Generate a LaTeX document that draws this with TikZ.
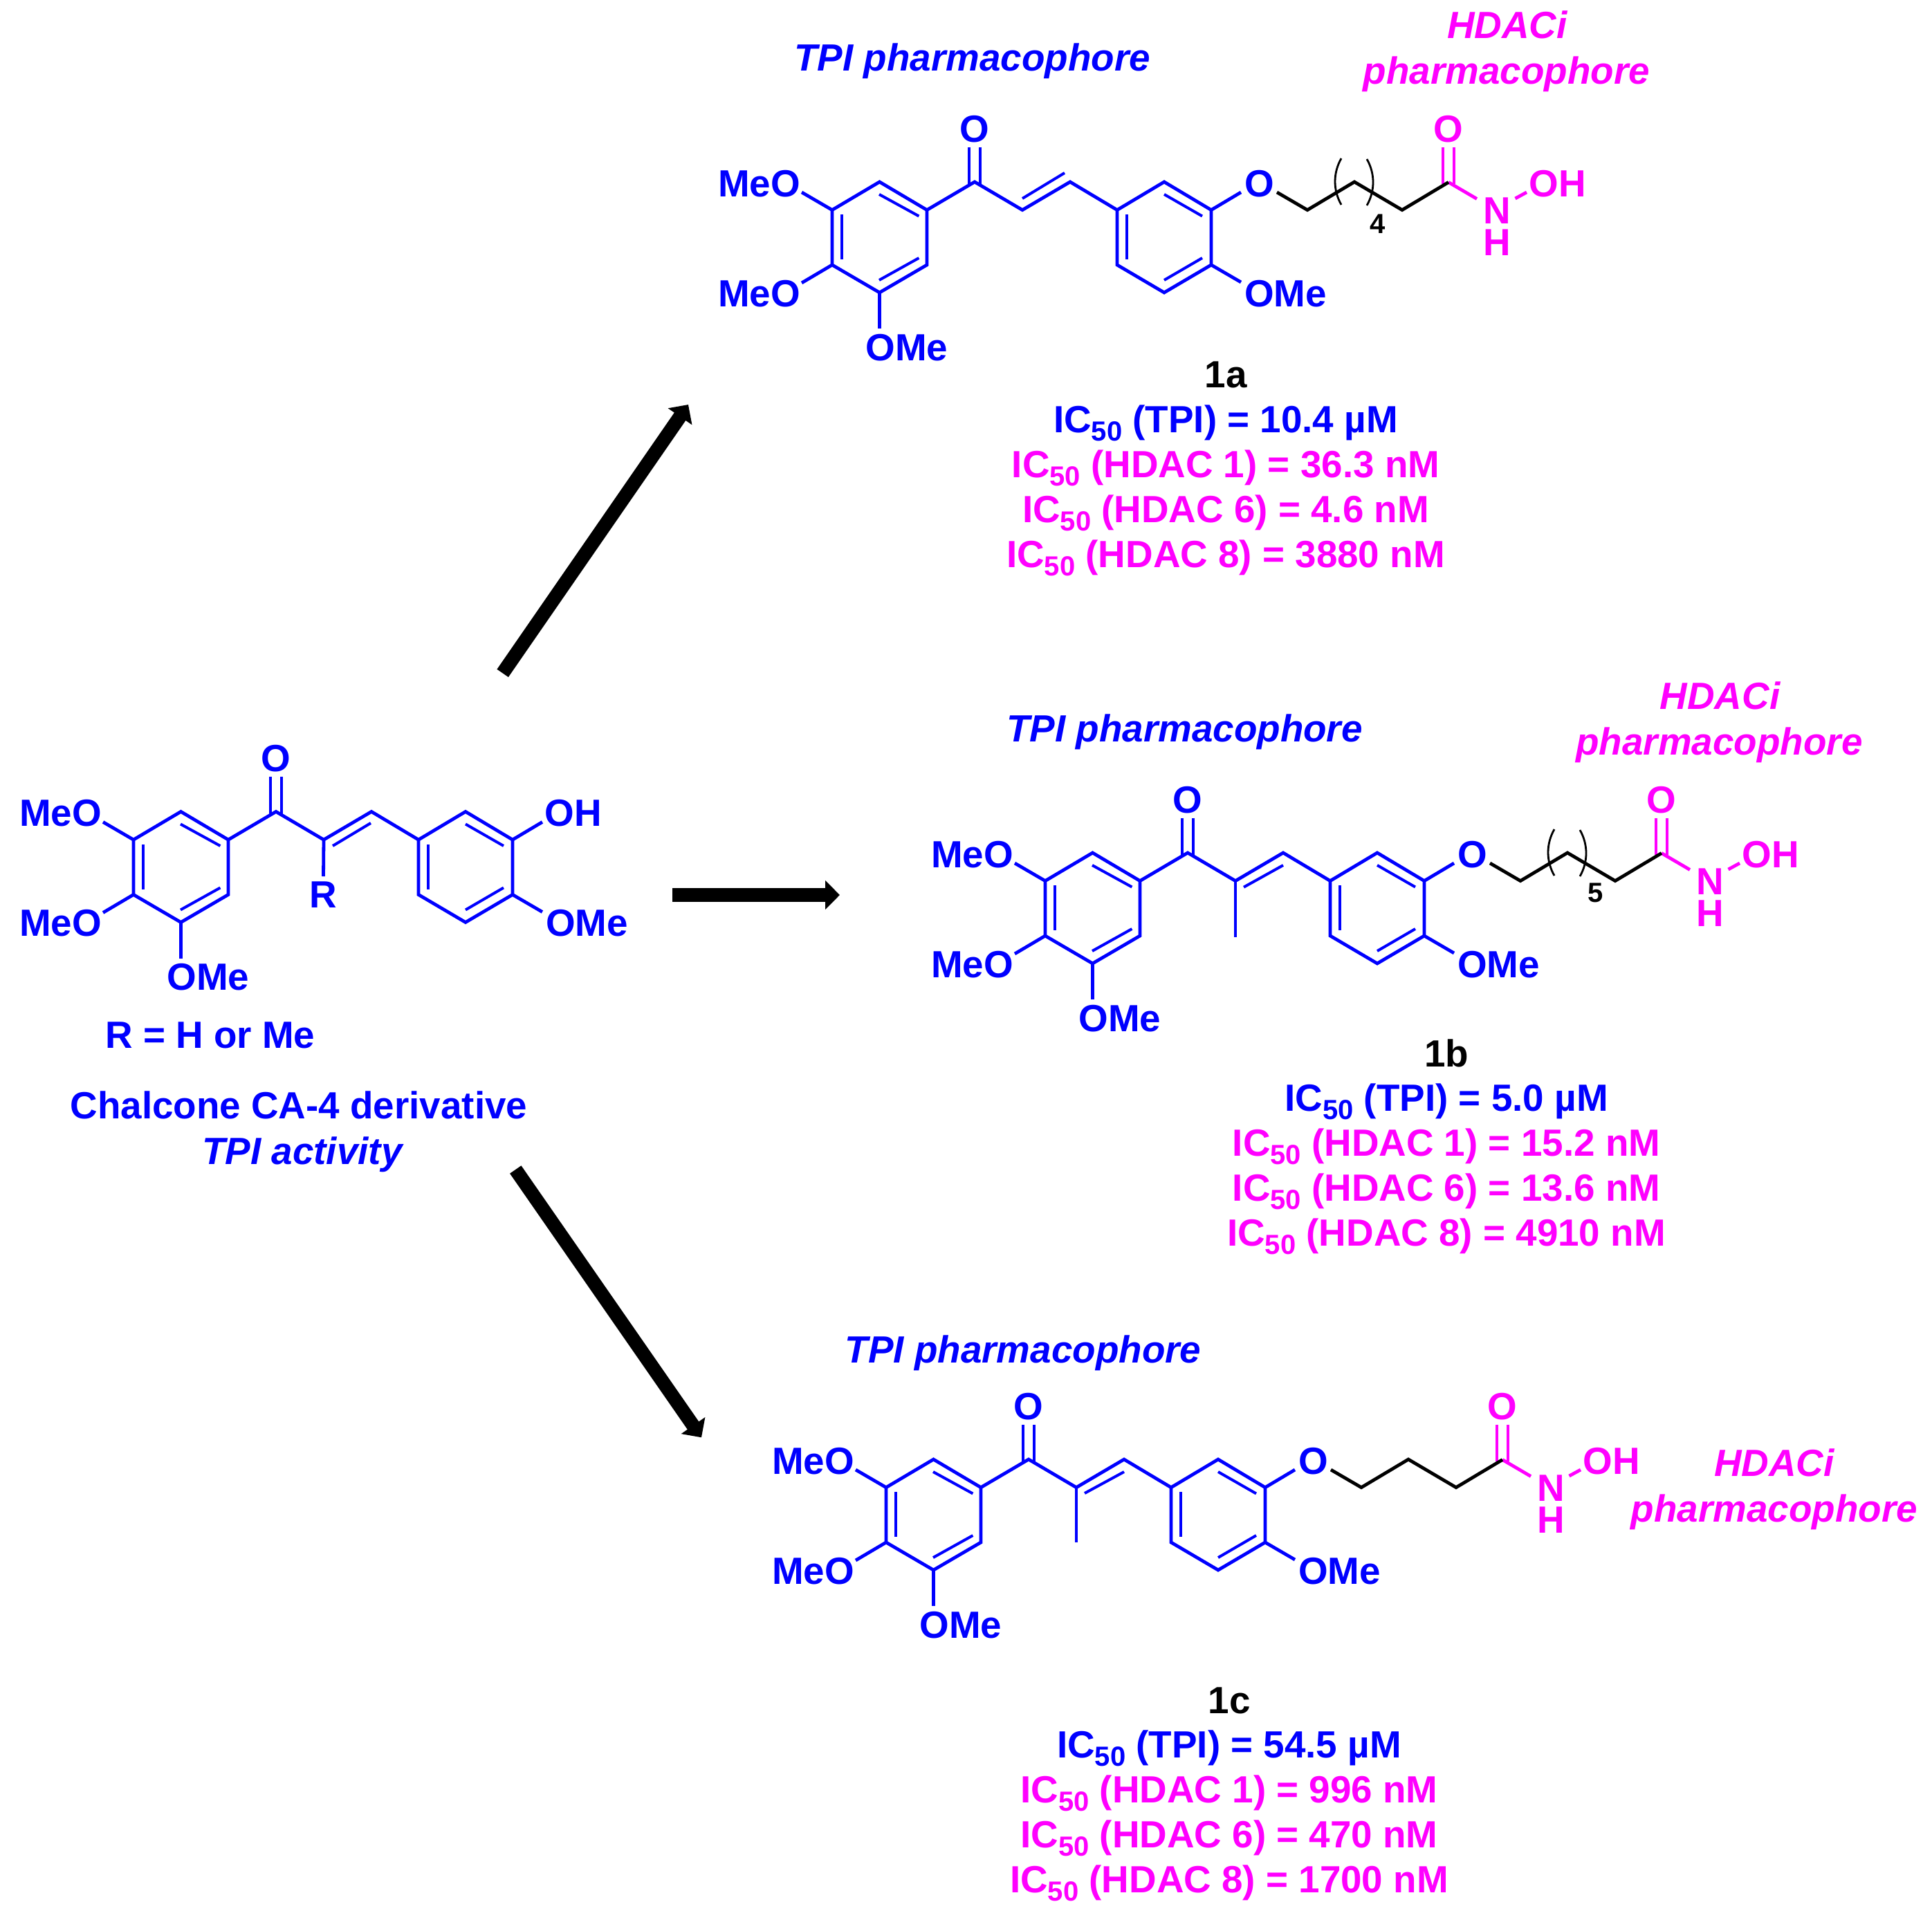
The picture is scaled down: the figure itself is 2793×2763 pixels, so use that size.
\documentclass[tikz,border=0pt]{standalone}
\usepackage{fontspec}
\setmainfont{Liberation Sans}
\usetikzlibrary{arrows.meta}
\definecolor{tpiblue}{RGB}{0,0,255}
\definecolor{hdacpink}{RGB}{255,0,255}
\newcommand{\ICfifty}{IC\raisebox{-12pt}{\fontsize{40}{40}\selectfont 50}}
\tikzset{
  bond/.style={line width=4.8pt,line join=miter},
  inner bond/.style={line width=4pt},
  paren/.style={line width=2.8pt,black},
  atom/.style={anchor=base,inner sep=0pt,font=\fontsize{54.8}{60}\selectfont\bfseries},
  note/.style={anchor=base,inner sep=0pt,font=\fontsize{54.8}{60}\selectfont\bfseries\itshape},
  count/.style={anchor=base,inner sep=0pt,font=\fontsize{40}{40}\selectfont\bfseries,black},
  bigarrow/.style={line width=20pt,black,-{Triangle[length=21pt,width=41pt]}}
}
% common chalcone core, given in the coordinates of 1a and shifted
\newcommand{\chalconecore}[3]{%
\begin{scope}[shift={(#2,#3)},tpiblue,text=tpiblue]
  \coordinate (#1a1) at (1271.5,263);
  \coordinate (#1a2) at (1340,303.6);
  \coordinate (#1a3) at (1340,383);
  \coordinate (#1a4) at (1271.5,423);
  \coordinate (#1a5) at (1203,383);
  \coordinate (#1a6) at (1203,303.6);
  \coordinate (#1co) at (1409,263);
  \coordinate (#1ca) at (1478,303.6);
  \coordinate (#1cb) at (1547,263);
  \coordinate (#1b1) at (1683,263);
  \coordinate (#1b2) at (1751,303.6);
  \coordinate (#1b3) at (1751,383);
  \coordinate (#1b4) at (1683,423);
  \coordinate (#1b5) at (1615,383);
  \coordinate (#1b6) at (1615,303.6);
  \draw[bond] (#1a1)--(#1a2)--(#1a3)--(#1a4)--(#1a5)--(#1a6)--cycle;
  \draw[bond] (#1b1)--(#1b2)--(#1b3)--(#1b4)--(#1b5)--(#1b6)--cycle;
  \draw[bond] (#1a2)--(#1co)--(#1ca)--(#1cb)--(#1b6);
  \draw[inner bond] (1271,281)--(1328.4,312.5);
  \draw[inner bond] (1271,405)--(1328.4,373);
  \draw[inner bond] (1216.5,310)--(1216.5,375);
  \draw[inner bond] (1683,281)--(1738,312.5);
  \draw[inner bond] (1683,405)--(1738,373);
  \draw[inner bond] (1629,310)--(1629,375);
  \node[atom] (#1oco) at (1409,205) {O};
  \coordinate (#1coL) at (1401,212.5);
  \coordinate (#1coR) at (1417,212.5);
  \draw[inner bond] (#1coL)--(1401,266);
  \draw[inner bond] (#1coR)--(1417,266);
  \node[atom] (#1meoA) at (1097.5,284) {MeO};
  \node[atom] (#1meoB) at (1097.5,443) {MeO};
  \node[atom] (#1omeC) at (1311,521) {OMe};
  \node[atom] (#1omeD) at (1858.5,443) {OMe};
  \coordinate (#1e1) at (1159,278);
  \coordinate (#1e2) at (1159,409);
  \coordinate (#1e3) at (1271.5,475);
  \coordinate (#1e4) at (1794,278);
  \coordinate (#1e5) at (1794,408);
  \draw[bond] (#1a6)--(#1e1);
  \draw[bond] (#1a5)--(#1e2);
  \draw[bond] (#1a4)--(#1e3);
  \draw[bond] (#1b2)--(#1e4);
  \draw[bond] (#1b3)--(#1e5);
\end{scope}}
% hydroxamate tail, same frame
\newcommand{\tail}[3]{%
\begin{scope}[shift={(#2,#3)}]
  \node[atom,text=tpiblue] (#1eth) at (1820.5,284) {O};
  \coordinate (#1t0) at (1846,278);
  \coordinate (#1t1) at (1890,303.6);
  \coordinate (#1t2) at (1958,263);
  \coordinate (#1t3) at (2027,303.6);
  \coordinate (#1t4) at (2094,263.5);
  \coordinate (#1t5) at (2135,287.5);
  \coordinate (#1t6) at (2190.5,287);
  \coordinate (#1t7) at (2207,278);
  \node[atom,text=hdacpink] (#1oam) at (2094,205) {O};
  \node[atom,text=hdacpink] (#1n) at (2164,323) {N};
  \node[atom,text=hdacpink] (#1h) at (2164,369) {H};
  \node[atom,text=hdacpink] (#1oh) at (2252,284) {OH};
  \draw[inner bond,hdacpink] (2086,212.5)--(2086,266);
  \draw[inner bond,hdacpink] (2102,212.5)--(2102,266);
  \draw[bond,hdacpink] (#1t4)--(#1t5);
  \draw[bond,hdacpink] (#1t6)--(#1t7);
  \draw[bond,black] (#1t0)--(#1t1)--(#1t2)--(#1t3)--(#1t4);
\end{scope}}
\newcommand{\parens}[3]{%
\begin{scope}[shift={(#2,#3)}]
  \coordinate (#1p1) at (1939,229);
  \coordinate (#1p2) at (1939,296);
  \coordinate (#1p3) at (1976,230);
  \coordinate (#1p4) at (1976,297);
  \draw[paren] (#1p1) .. controls (1927,250) and (1927,275) .. (#1p2);
  \draw[paren] (#1p3) .. controls (1988,251) and (1988,276) .. (#1p4);
\end{scope}}
\newcommand{\assay}[8]{%
  \node[atom,text=black] (#1name) at (#2,#3) {#4};
  \node[atom,text=tpiblue] (#1tpi) at (#2,#3+64.5) {\ICfifty{} (TPI) = #5};
  \node[atom,text=hdacpink] (#1h1) at (#2,#3+129.5) {\ICfifty{} (HDAC 1) = #6};
  \node[atom,text=hdacpink] (#1h6) at (#2,#3+194.5) {\ICfifty{} (HDAC 6) = #7};
  \node[atom,text=hdacpink] (#1h8) at (#2,#3+259.5) {\ICfifty{} (HDAC 8) = #8};}
\begin{document}
\begin{tikzpicture}[x=1pt,y=-1pt]
\useasboundingbox (0,0) rectangle (2793,2763);
% --- starting chalcone
\chalconecore{L}{-1010}{910.5}
\node[atom,text=tpiblue] (Loh) at (829,1194) {OH};
\draw[inner bond,tpiblue] (481,1223)--(536,1190);
\coordinate (Lr) at (467.5,1267);
\draw[bond,tpiblue] (Lca)--(Lr);
\node[atom,text=tpiblue] (Lrl) at (467.5,1312) {R};
\node[atom,text=tpiblue] (Lrdef) at (304,1515) {R = H or Me};
\node[atom,text=tpiblue] (Lname) at (432,1617) {Chalcone CA-4 derivative};
\node[note,text=tpiblue] (Lact) at (437,1683) {TPI activity};
% --- 1a
\chalconecore{A}{0}{0}
\tail{A}{0}{0}
\parens{A}{0}{0}
\draw[inner bond,tpiblue] (1478,287)--(1539,250);
\node[count] (Acount) at (1992,337.5) {4};
\node[note,text=tpiblue] (Atpi2) at (1405.6,102) {TPI pharmacophore};
\node[note,text=hdacpink] (Ahd) at (2179,55) {HDACi};
\node[note,text=hdacpink] (Aph) at (2178,121.4) {pharmacophore};
\assay{Ai}{1772}{560.7}{1a}{10.4 µM}{36.3 nM}{4.6 nM}{3880 nM}
% --- 1b
\chalconecore{B}{308}{970}
\tail{B}{308}{970}
\parens{B}{308}{970}
\draw[inner bond,tpiblue] (1798,1282.7)--(1855,1251);
\coordinate (Bme) at (1786,1355);
\draw[bond,tpiblue] (Bca)--(Bme);
\node[count] (Bcount) at (2307,1304) {5};
\node[note,text=tpiblue] (Btpi2) at (1712.5,1072) {TPI pharmacophore};
\node[note,text=hdacpink] (Bhd) at (2486.5,1025) {HDACi};
\node[note,text=hdacpink] (Bph) at (2485.5,1091) {pharmacophore};
\assay{Bi}{2091}{1542}{1b}{5.0 µM}{15.2 nM}{13.6 nM}{4910 nM}
% --- 1c
\chalconecore{C}{78}{1847}
\tail{C}{78}{1847}
\draw[inner bond,tpiblue] (1568,2159)--(1625,2128);
\coordinate (Cme) at (1556,2230);
\draw[bond,tpiblue] (Cca)--(Cme);
\node[note,text=tpiblue] (Ctpi2) at (1479,1970) {TPI pharmacophore};
\node[note,text=hdacpink] (Chd) at (2565,2134) {HDACi};
\node[note,text=hdacpink] (Cph) at (2565,2200) {pharmacophore};
\assay{Ci}{1777}{2477}{1c}{54.5 µM}{996 nM}{470 nM}{1700 nM}
% --- reaction arrows
\coordinate (r1s) at (726.7,973.3);
\coordinate (r1e) at (995,585);
\coordinate (r2s) at (972,1294);
\coordinate (r2e) at (1214,1294);
\coordinate (r3s) at (745.3,1691);
\coordinate (r3e) at (1014,2078.3);
\draw[bigarrow] (r1s)--(r1e);
\draw[bigarrow] (r2s)--(r2e);
\draw[bigarrow] (r3s)--(r3e);
\end{tikzpicture}
\end{document}
